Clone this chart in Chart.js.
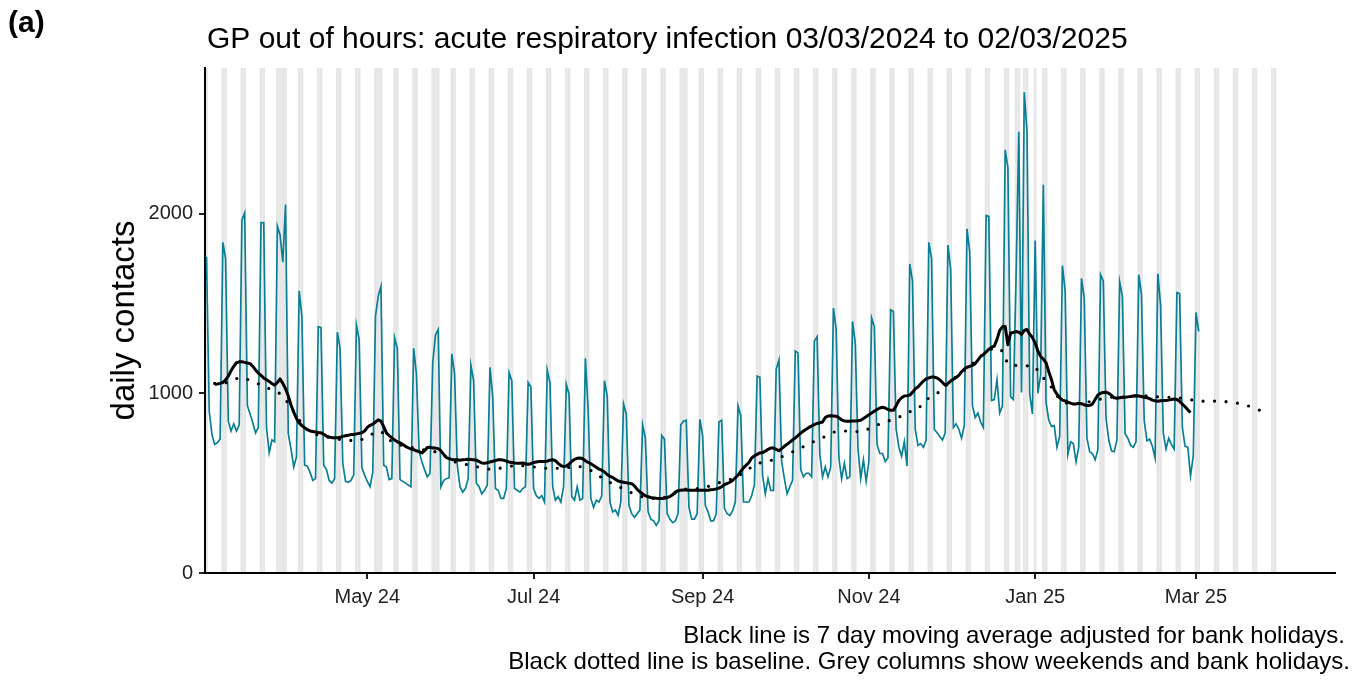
<!DOCTYPE html>
<html>
<head>
<meta charset="utf-8">
<script src="https://cdn.jsdelivr.net/npm/chart.js@4.4.1/dist/chart.umd.min.js"></script>
<style>
  html, body { margin: 0; padding: 0; background: #fff; }
  #chart { display: block; }
</style>
</head>
<body>
<canvas id="chart" width="1370" height="682"></canvas>
<script>
// day 0 = Sun 03/03/2024, one value per day up to Sun 02/03/2025
const startDate = '2024-03-03';

// daily contacts, first the lone Sunday, then one line per week (Mon..Sun)
const dailyContacts = [
  1760,
  900, 770, 715, 725, 745, 1840, 1750,
  845, 790, 830, 790, 825, 1965, 2005,
  930, 885, 835, 780, 810, 1950, 1950,
  810, 670, 740, 730, 1930, 1880, 1730,
  2050, 775, 690, 590, 645, 1570, 1430,
  600, 595, 560, 515, 525, 1370, 1365,
  600, 575, 515, 500, 525, 1340, 1250,
  610, 510, 505, 515, 545, 1380, 1300,
  585, 545, 510, 480, 560, 1430, 1540,
  1595, 600, 590, 520, 525, 1310, 1250,
  520, 510, 500, 490, 480, 1250, 1110,
  675, 620, 575, 535, 555, 1170, 1325,
  1355, 480, 515, 525, 530, 1220, 1110,
  600, 480, 450, 470, 525, 1155, 1070,
  500, 480, 440, 460, 490, 1145, 980,
  470, 460, 415, 415, 470, 1115, 1070,
  470, 460, 450, 470, 480, 1060, 1035,
  470, 430, 415, 430, 395, 1130, 1060,
  480, 405, 425, 395, 480, 1050, 995,
  425, 405, 480, 405, 415, 1195, 910,
  415, 365, 405, 395, 430, 1070, 985,
  395, 340, 350, 320, 395, 940, 885,
  375, 330, 310, 330, 350, 825, 750,
  340, 300, 290, 265, 290, 765, 745,
  330, 300, 280, 290, 330, 825, 845,
  850, 365, 300, 300, 330, 855, 765,
  375, 340, 290, 290, 330, 840, 850,
  360, 330, 320, 345, 395, 930, 875,
  395, 395, 395, 430, 490, 1095, 1090,
  545, 440, 525, 460, 460, 1135, 1185,
  620, 525, 440, 480, 515, 1235, 1225,
  575, 535, 555, 555, 535, 1290, 1315,
  660, 535, 590, 535, 590, 1475, 1355,
  640, 525, 610, 525, 535, 1400, 1280,
  695, 525, 630, 510, 620, 1420, 1370,
  715, 665, 665, 620, 640, 1465, 1455,
  800, 700, 650, 730, 595, 1720, 1625,
  800, 710, 720, 700, 740, 1840, 1750,
  800, 780, 760, 740, 780, 1825, 1690,
  810, 830, 800, 750, 820, 1915, 1785,
  930, 865, 890, 840, 810, 1990, 1985,
  960, 965, 1075, 890, 930, 2355, 2255,
  980, 965, 1650, 2455, 1005, 2675, 2460,
  995, 885, 1850, 1000, 1100, 2160, 950,
  850, 815, 820, 700, 760, 1710, 1570,
  660, 730, 720, 620, 700, 1640, 1530,
  750, 675, 665, 630, 685, 1660, 1625,
  860, 740, 680, 675, 740, 1620, 1540,
  775, 750, 710, 700, 730, 1660, 1550,
  850, 735, 745, 705, 640, 1665, 1495,
  780, 690, 750, 715, 690, 1560, 1555,
  810, 705, 700, 540, 650, 1450, 1345
];

// 7 day moving average, starts at day 3
const avgStartDay = 3;
const movingAverage = [
  1050, 1052, 1055, 1060, 1075, 1095, 1125, 1150, 1170, 1175,
  1175, 1172, 1168, 1165, 1150, 1130, 1112, 1100, 1085, 1075,
  1065, 1055, 1045, 1060, 1080, 1055, 1025, 985, 935, 895,
  860, 835, 820, 808, 798, 790, 787, 785, 782, 780,
  772, 762, 757, 753, 752, 752, 755, 760, 764, 767,
  770, 771, 774, 777, 780, 790, 810, 822, 828, 840,
  852, 845, 815, 780, 765, 752, 740, 730, 724, 715,
  705, 697, 690, 686, 680, 675, 668, 680, 698, 700,
  696, 695, 692, 680, 660, 642, 636, 632, 630, 630,
  628, 630, 631, 633, 632, 630, 628, 620, 612, 611,
  614, 618, 622, 625, 630, 630, 628, 622, 618, 615,
  612, 611, 611, 612, 608, 605, 608, 615, 618, 620,
  620, 620, 622, 628, 630, 625, 610, 598, 592, 595,
  605, 622, 632, 638, 640, 636, 625, 615, 608, 598,
  588, 578, 572, 562, 548, 538, 532, 522, 512, 508,
  505, 502, 500, 497, 485, 465, 452, 440, 430, 424,
  420, 418, 416, 415, 414, 416, 420, 425, 435, 450,
  458, 461, 462, 462, 461, 460, 460, 461, 461, 460,
  460, 461, 463, 465, 468, 472, 480, 492, 498, 505,
  515, 530, 545, 565, 585, 600, 615, 640, 652, 660,
  668, 670, 678, 688, 695, 696, 688, 680, 692, 705,
  716, 728, 740, 752, 765, 778, 790, 800, 810, 818,
  826, 832, 836, 840, 865, 874, 875, 874, 872, 864,
  852, 846, 845, 845, 846, 846, 847, 850, 860, 870,
  880, 890, 900, 910, 918, 922, 918, 910, 905, 905,
  930, 960, 975, 985, 987, 990, 1005, 1025, 1035, 1052,
  1068, 1080, 1086, 1090, 1090, 1085, 1075, 1060, 1045, 1055,
  1068, 1078, 1088, 1100, 1120, 1135, 1145, 1150, 1155, 1165,
  1185, 1205, 1215, 1230, 1245, 1255, 1262, 1300, 1350, 1370,
  1372, 1270, 1335, 1338, 1344, 1340, 1328, 1350, 1355, 1328,
  1310, 1280, 1235, 1205, 1190, 1170, 1120, 1075, 1020, 995,
  975, 962, 958, 950, 945, 940, 940, 945, 942, 936,
  932, 932, 940, 965, 990, 1000, 1005, 1006, 1000, 988,
  975, 972, 975, 978, 978, 980, 982, 985, 986, 985,
  982, 978, 975, 970, 962, 958, 956, 958, 960, 960,
  962, 966, 968, 965, 955, 940, 925, 908, 893
];

// baseline read at these days
const baselineDays = [
  3, 8, 12, 17, 21, 24, 27, 30, 33, 35, 38, 43, 50, 56, 59, 61, 64, 67, 71, 78,
  85, 92, 97, 101, 105, 110, 114, 119, 124, 129, 137, 142, 146, 150, 154, 158, 162, 167, 171, 176,
  180, 185, 189, 194, 198, 202, 206, 210, 214, 218, 223, 227, 231, 236, 240, 244, 248, 253, 257, 261,
  264, 268, 274, 278, 282, 285, 289, 292, 294, 297, 300, 304, 306, 309, 311, 314, 318, 323, 328, 332,
  336, 341, 346, 350, 355, 360, 364, 368, 373, 377, 382, 387
];
const baselineValues = [
  1055, 1060, 1088, 1070, 1035, 1022, 998, 945, 875, 830, 780, 760, 740, 735, 760, 775, 790, 740, 712, 690,
  672, 612, 600, 585, 575, 590, 600, 592, 583, 583, 592, 565, 518, 490, 460, 432, 415, 414, 440, 468,
  470, 485, 508, 528, 570, 610, 622, 640, 667, 696, 733, 760, 790, 790, 785, 808, 837, 858, 893, 912,
  965, 998, 1080, 1128, 1178, 1220, 1255, 1235, 1162, 1155, 1154, 1150, 1098, 1060, 1005, 950, 940, 950, 968, 978,
  978, 987, 986, 978, 978, 968, 955, 958, 955, 949, 931, 902
];

const bankHolidays = ['2024-03-29', '2024-04-01', '2024-05-06', '2024-05-27',
  '2024-08-26', '2024-12-25', '2024-12-26', '2025-01-01'];
const shadeUntil = '2025-03-30';

const tickDates = ['2024-05-01', '2024-07-01', '2024-09-01', '2024-11-01', '2025-01-01', '2025-03-01'];
const tickLabels = ['May 24', 'Jul 24', 'Sep 24', 'Nov 24', 'Jan 25', 'Mar 25'];
const yTicks = [0, 1000, 2000];

const DAY = 86400000;
const t0 = Date.parse(startDate);
const dayOf = s => Math.round((Date.parse(s) - t0) / DAY);
const tickDays = tickDates.map(dayOf);
const holidayDays = bankHolidays.map(dayOf);

// grey columns: every weekend day plus bank holidays
const shadeDays = [];
for (let d = 0; d <= dayOf(shadeUntil); d++) {
  const wd = new Date(t0 + d * DAY).getUTCDay();
  if (wd === 0 || wd === 6 || holidayDays.includes(d)) shadeDays.push(d);
}

const FONT = '"Liberation Sans", Arial, sans-serif';

// drawn before the axes so the axis lines stay on top
const shading = {
  id: 'shading',
  beforeDraw(chart) {
    const { ctx, chartArea, scales } = chart;
    ctx.save();
    ctx.fillStyle = '#e6e6e6';
    shadeDays.forEach(d => {
      const x1 = Math.max(scales.x.getPixelForValue(d - 0.5), chartArea.left);
      const x2 = scales.x.getPixelForValue(d + 0.5);
      ctx.fillRect(x1, chartArea.top, x2 - x1, chartArea.bottom - chartArea.top);
    });
    ctx.restore();
  }
};

const texts = {
  id: 'texts',
  afterDraw(chart) {
    const { ctx, chartArea } = chart;
    ctx.save();
    ctx.fillStyle = '#000';
    ctx.textBaseline = 'alphabetic';
    ctx.font = 'bold 30px ' + FONT;
    ctx.textAlign = 'left';
    ctx.fillText('(a)', 8, 32);
    ctx.font = '30px ' + FONT;
    ctx.fillText('GP out of hours: acute respiratory infection 03/03/2024 to 02/03/2025', chartArea.left + 2, 48);
    ctx.font = '24px ' + FONT;
    ctx.textAlign = 'right';
    ctx.fillText('Black line is 7 day moving average adjusted for bank holidays.', 1345, 643);
    ctx.fillText('Black dotted line is baseline. Grey columns show weekends and bank holidays.', 1350, 669);
    ctx.translate(134, (chartArea.top + chartArea.bottom) / 2);
    ctx.rotate(-Math.PI / 2);
    ctx.textAlign = 'center';
    ctx.font = '33px ' + FONT;
    ctx.fillText('daily contacts', 0, 0);
    ctx.restore();
  }
};

new Chart(document.getElementById('chart').getContext('2d'), {
  type: 'line',
  data: {
    datasets: [
      {
        label: 'baseline',
        data: baselineDays.map((d, i) => ({ x: d, y: baselineValues[i] })),
        borderColor: '#000',
        borderWidth: 3.2,
        borderDash: [0, 11.5],
        borderCapStyle: 'round',
        pointRadius: 0,
        order: 0
      },
      {
        label: '7 day moving average',
        data: movingAverage.map((v, i) => ({ x: i + avgStartDay, y: v })),
        borderColor: '#000',
        borderWidth: 3,
        borderJoinStyle: 'round',
        pointRadius: 0,
        order: 1
      },
      {
        label: 'daily contacts',
        data: dailyContacts.map((v, i) => ({ x: i, y: v })),
        borderColor: '#0a7f93',
        borderWidth: 1.7,
        pointRadius: 0,
        order: 2
      }
    ]
  },
  options: {
    responsive: false,
    animation: false,
    layout: { padding: { top: 68, right: 35, bottom: 0, left: 0 } },
    plugins: { legend: { display: false }, tooltip: { enabled: false } },
    scales: {
      x: {
        type: 'linear',
        min: -0.55,
        max: 414,
        afterBuildTicks: s => { s.ticks = tickDays.map(v => ({ value: v })); },
        afterFit: s => { s.height = 109; },
        ticks: {
          autoSkip: false, maxRotation: 0, padding: 6,
          color: '#222', font: { family: FONT, size: 20 },
          callback: v => tickLabels[tickDays.indexOf(v)]
        },
        grid: { drawOnChartArea: false, drawTicks: true, tickLength: 6, color: '#222', lineWidth: 2 },
        border: { display: true, color: '#000', width: 2 }
      },
      y: {
        min: 0,
        max: 2810,
        afterBuildTicks: s => { s.ticks = yTicks.map(v => ({ value: v })); },
        afterFit: s => { s.width = 205; },
        ticks: {
          padding: 6, color: '#222', font: { family: FONT, size: 20 },
          callback: v => String(v)
        },
        grid: { drawOnChartArea: false, drawTicks: true, tickLength: 6, color: '#222', lineWidth: 2 },
        border: { display: true, color: '#000', width: 2 }
      }
    }
  },
  plugins: [shading, texts]
});
</script>
</body>
</html>
